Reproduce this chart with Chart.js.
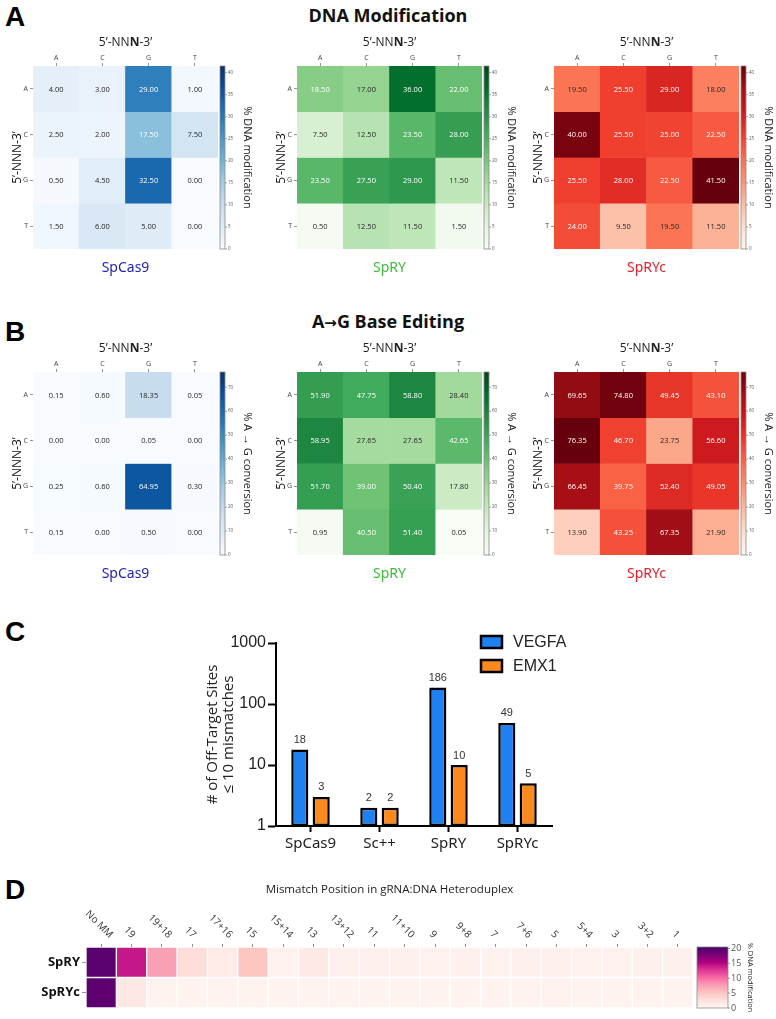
<!DOCTYPE html>
<html>
<head>
<meta charset="utf-8">
<script src="https://cdn.jsdelivr.net/npm/chart.js@4.4.0/dist/chart.umd.min.js"></script>
<style>
body { margin: 0; width: 776px; height: 1019px; overflow: hidden; background: #fff; position: relative; }
canvas { position: absolute; }
.letter { position: absolute; font: bold 28px 'Liberation Sans', Arial, sans-serif; line-height: 1; color: #000; }
.head { position: absolute; left: 0; width: 776px; text-align: center; font: bold 18px 'Open Sans', sans-serif; line-height: 1.2; color: #111; }
.arrow { font-family: 'DejaVu Sans', sans-serif; font-size: 15px; }
</style>
</head>
<body>
<div class="letter" style="left:5px;top:3px">A</div>
<div class="head" style="top:5px">DNA Modification</div>
<canvas id="dnaSpCas9" width="258" height="253" style="left:0px;top:30px"></canvas>
<canvas id="dnaSpRY" width="258" height="253" style="left:264px;top:30px"></canvas>
<canvas id="dnaSpRYc" width="258" height="253" style="left:521px;top:30px"></canvas>

<div class="letter" style="left:5px;top:318px">B</div>
<div class="head" style="top:311px">A<span class="arrow">→</span>G Base Editing</div>
<canvas id="abeSpCas9" width="258" height="253" style="left:0px;top:336px"></canvas>
<canvas id="abeSpRY" width="258" height="253" style="left:264px;top:336px"></canvas>
<canvas id="abeSpRYc" width="258" height="253" style="left:521px;top:336px"></canvas>

<div class="letter" style="left:5px;top:618px">C</div>
<canvas id="offTarget" width="420" height="240" style="left:190px;top:620px"></canvas>

<div class="letter" style="left:5px;top:876px">D</div>
<canvas id="mismatch" width="776" height="149" style="left:0px;top:870px"></canvas>

<script>
// ---- data ----
const bases = ['A', 'C', 'G', 'T'];

// % DNA modification (rows = 5' base, cols = 3' base)
const dnaSpCas9 = [[4.00, 3.00, 29.00, 1.00], [2.50, 2.00, 17.50, 7.50], [0.50, 4.50, 32.50, 0.00], [1.50, 6.00, 5.00, 0.00]];
const dnaSpRY = [[18.50, 17.00, 36.00, 22.00], [7.50, 12.50, 23.50, 28.00], [23.50, 27.50, 29.00, 11.50], [0.50, 12.50, 11.50, 1.50]];
const dnaSpRYc = [[19.50, 25.50, 29.00, 18.00], [40.00, 25.50, 25.00, 22.50], [25.50, 28.00, 22.50, 41.50], [24.00, 9.50, 19.50, 11.50]];
const dnaMax = 41.5;
const dnaTicks = [0, 5, 10, 15, 20, 25, 30, 35, 40];

// % A -> G conversion
const abeSpCas9 = [[0.15, 0.60, 18.35, 0.05], [0.00, 0.00, 0.05, 0.00], [0.25, 0.60, 64.95, 0.30], [0.15, 0.00, 0.50, 0.00]];
const abeSpRY = [[51.90, 47.75, 58.80, 28.40], [58.95, 27.65, 27.65, 42.65], [51.70, 39.00, 50.40, 17.80], [0.95, 40.50, 51.40, 0.05]];
const abeSpRYc = [[69.65, 74.80, 49.45, 43.10], [76.35, 46.70, 23.75, 56.60], [66.45, 39.75, 52.40, 49.05], [13.90, 43.25, 67.35, 21.90]];
const abeMax = 76.35;
const abeTicks = [0, 10, 20, 30, 40, 50, 60, 70];

// off-target sites (log scale)
const offTargetGroups = ['SpCas9', 'Sc++', 'SpRY', 'SpRYc'];
const vegfaSites = [18, 2, 186, 49];
const emx1Sites = [3, 2, 10, 5];
const logTicks = [1, 10, 100, 1000];

// mismatch tolerance
const mmPositions = ['No MM', '19', '19+18', '17', '17+16', '15', '15+14', '13', '13+12', '11', '11+10', '9', '9+8', '7', '7+6', '5', '5+4', '3', '3+2', '1'];
const mmVariants = ['SpRY', 'SpRYc'];
const mmSpRY = [19.6, 14.2, 7.6, 2.8, 1.3, 5.0, 0.6, 1.6, 0.7, 0.8, 0.7, 0.6, 0.7, 0.6, 0.7, 0.8, 0.6, 0.6, 0.8, 0.7];
const mmSpRYc = [19.4, 1.7, 0.5, 0.5, 0.5, 0.5, 0.4, 0.5, 0.5, 0.5, 0.5, 0.4, 0.5, 0.4, 0.5, 0.6, 0.4, 0.5, 0.5, 0.5];
const mmMax = 20.5;
const mmTicks = [0, 5, 10, 15, 20];

// ---- colour maps ----
const cmaps = {
    blues: { stops: ['#f7fbff', '#deebf7', '#c6dbef', '#9ecae1', '#6baed6', '#4292c6', '#2171b5', '#08519c', '#08306b'], light: 0.35 },
    greens: { stops: ['#f7fcf5', '#e5f5e0', '#c7e9c0', '#a1d99b', '#74c476', '#41ab5d', '#238b45', '#006d2c', '#00441b'], light: 0.43 },
    reds: { stops: ['#fff5f0', '#fee0d2', '#fcbba1', '#fc9272', '#fb6a4a', '#ef3b2c', '#cb181d', '#a50f15', '#67000d'], light: 0.5 },
    rdpu: { stops: ['#fff7f3', '#fde0dd', '#fcc5c0', '#fa9fb5', '#f768a1', '#dd3497', '#ae017e', '#7a0177', '#49006a'], light: 0.5 }
};

function hexToRgb(h) {
    const n = parseInt(h.slice(1), 16);
    return [(n >> 16) & 255, (n >> 8) & 255, n & 255];
}

function cmapColor(cm, t) {
    t = Math.max(0, Math.min(1, t));
    const s = cm.stops;
    const p = t * (s.length - 1);
    const i = Math.min(Math.floor(p), s.length - 2);
    const f = p - i;
    const a = hexToRgb(s[i]), b = hexToRgb(s[i + 1]);
    const c = a.map((v, k) => Math.round(v + (b[k] - v) * f));
    return `rgb(${c[0]},${c[1]},${c[2]})`;
}

const FONT = "'Open Sans', sans-serif";

function makeHeatmap(o) {
    const cm = cmaps[o.cmap];

    const cellText = {
        id: 'cellText',
        afterDatasetsDraw(chart) {
            if (!o.cellText) return;
            const ctx = chart.ctx;
            ctx.save();
            ctx.font = `7.5px ${FONT}`;
            ctx.textAlign = 'center';
            ctx.textBaseline = 'middle';
            chart.data.datasets.forEach((ds, i) => {
                chart.getDatasetMeta(i).data.forEach((bar, j) => {
                    const v = o.values[i][j];
                    const p = bar.getCenterPoint();
                    ctx.fillStyle = v / o.vmax > cm.light ? '#ffffff' : '#262626';
                    ctx.fillText(v.toFixed(2), p.x, p.y + 0.5);
                });
            });
            ctx.restore();
        }
    };

    const deco = {
        id: 'deco',
        afterDraw(chart) {
            const { ctx, chartArea: a } = chart;
            const cb = chart.scales.cb;
            ctx.save();

            // title above the columns (last N in bold)
            ctx.textBaseline = 'middle';
            ctx.fillStyle = '#222';
            let total = 0;
            o.titleParts.forEach(([txt, w]) => { ctx.font = `${w} ${o.titleSize}px ${FONT}`; total += ctx.measureText(txt).width; });
            let tx = (a.left + a.right) / 2 - total / 2;
            ctx.textAlign = 'left';
            o.titleParts.forEach(([txt, w]) => {
                ctx.font = `${w} ${o.titleSize}px ${FONT}`;
                ctx.fillText(txt, tx, a.top - o.titleOffset);
                tx += ctx.measureText(txt).width;
            });

            // rotated row title
            if (o.yTitle) {
                ctx.save();
                ctx.translate(a.left - 15, (a.top + a.bottom) / 2);
                ctx.rotate(-Math.PI / 2);
                ctx.textAlign = 'center';
                ctx.font = `12px ${FONT}`;
                ctx.fillStyle = '#111';
                ctx.fillText(o.yTitle, 0, 0);
                ctx.restore();
            }

            // rotated column labels
            if (o.rotateCols) {
                const xs = chart.scales.x;
                ctx.font = `10px ${FONT}`;
                ctx.fillStyle = '#333';
                ctx.textAlign = 'center';
                o.cols.forEach((lab, i) => {
                    const x = xs.getPixelForTick(i);
                    const w = ctx.measureText(lab).width;
                    const cy = a.top - 7 - (w + 10) * 0.7071 / 2;
                    ctx.save();
                    ctx.translate(x - 2, cy);
                    ctx.rotate(Math.PI / 4);
                    ctx.fillText(lab, 0, 0);
                    ctx.restore();
                });
            }

            // colour bar
            const x0 = a.right + o.cbGap;
            const top = cb.getPixelForValue(o.vmax), bot = cb.getPixelForValue(0);
            const g = ctx.createLinearGradient(0, bot, 0, top);
            cm.stops.forEach((c, i) => g.addColorStop(i / (cm.stops.length - 1), c));
            ctx.fillStyle = g;
            ctx.fillRect(x0, top, o.cbWidth, bot - top);
            ctx.strokeStyle = '#8a8a8a';
            ctx.lineWidth = 0.8;
            ctx.strokeRect(x0, top, o.cbWidth, bot - top);
            ctx.font = `${o.cbTickSize}px ${FONT}`;
            ctx.fillStyle = '#555';
            ctx.textAlign = 'left';
            o.cbTicks.forEach(v => {
                const y = cb.getPixelForValue(v);
                ctx.beginPath();
                ctx.moveTo(x0 + o.cbWidth, y);
                ctx.lineTo(x0 + o.cbWidth + 2, y);
                ctx.stroke();
                ctx.fillText(String(v), x0 + o.cbWidth + 3, y);
            });
            ctx.save();
            ctx.translate(a.right + o.cbLabelOffset, (top + bot) / 2);
            ctx.rotate(Math.PI / 2);
            ctx.textAlign = 'center';
            ctx.fillStyle = '#222';
            ctx.font = `${o.cbLabelSize}px ${FONT}`;
            ctx.fillText(o.cbLabel, 0, 0);
            ctx.restore();

            // variant name below
            if (o.name) {
                ctx.font = `14px 'Noto Sans', sans-serif`;
                ctx.fillStyle = o.nameColor;
                ctx.textAlign = 'center';
                ctx.fillText(o.name, (a.left + a.right) / 2, a.bottom + 19);
            }
            ctx.restore();
        }
    };

    return new Chart(document.getElementById(o.id), {
        type: 'bar',
        data: {
            labels: o.cols,
            datasets: o.rows.map((r, i) => ({
                label: r,
                data: o.values[i].map(() => [i, i + 1]),
                backgroundColor: o.values[i].map(v => cmapColor(cm, v / o.vmax)),
                borderColor: '#ffffff',
                borderWidth: o.cellBorder,
                borderSkipped: false
            }))
        },
        options: {
            responsive: false,
            animation: false,
            devicePixelRatio: 1,
            layout: { padding: { left: 0, top: 0, right: o.padRight, bottom: o.padBottom } },
            plugins: { legend: { display: false }, tooltip: { enabled: false } },
            datasets: { bar: { grouped: false, barPercentage: 1, categoryPercentage: 1 } },
            scales: {
                x: {
                    position: 'top',
                    grid: { offset: false, drawOnChartArea: false, tickLength: 3, tickColor: '#666', tickWidth: 0.7 },
                    border: { display: false },
                    ticks: { display: !o.rotateCols, font: { family: FONT, size: 7 }, color: '#444', padding: 1, maxRotation: 0, autoSkip: false },
                    afterFit: s => { s.height = o.xAxisH; }
                },
                y: {
                    min: 0,
                    max: o.rows.length,
                    reverse: true,
                    afterBuildTicks: s => { s.ticks = o.rows.map((r, i) => ({ value: i + 0.5 })); },
                    grid: { drawOnChartArea: false, tickLength: o.rowTickLen, tickColor: '#666', tickWidth: 0.7 },
                    border: { display: false },
                    ticks: { callback: (v, i) => o.rows[i], font: o.rowFont, color: o.rowColor, padding: 2 },
                    afterFit: s => { s.width = o.yAxisW; }
                },
                cb: { type: 'linear', display: false, position: 'right', min: 0, max: o.vmax }
            }
        },
        plugins: [cellText, deco]
    });
}

const nnnParts = [['5’-NN', 'normal'], ['N', 'bold'], ['-3’', 'normal']];

function smallHeatmap(id, values, cmap, vmax, ticks, label, name, color) {
    makeHeatmap({
        id, values, cmap, vmax, name, nameColor: color,
        rows: bases, cols: bases,
        cellText: true, cellBorder: 0,
        titleParts: nnnParts, titleSize: 12, titleOffset: 23,
        yTitle: '5’-NNN-3’',
        rowFont: { family: FONT, size: 7 }, rowColor: '#444', rowTickLen: 3,
        yAxisW: 33, xAxisH: 36, padRight: 40, padBottom: 34,
        cbGap: 2, cbWidth: 5, cbTicks: ticks, cbTickSize: 4.5,
        cbLabel: label, cbLabelSize: 11, cbLabelOffset: 29
    });
}

smallHeatmap('dnaSpCas9', dnaSpCas9, 'blues', dnaMax, dnaTicks, '% DNA modification', 'SpCas9', '#2424b4');
smallHeatmap('dnaSpRY', dnaSpRY, 'greens', dnaMax, dnaTicks, '% DNA modification', 'SpRY', '#3dbb3d');
smallHeatmap('dnaSpRYc', dnaSpRYc, 'reds', dnaMax, dnaTicks, '% DNA modification', 'SpRYc', '#e61e28');
smallHeatmap('abeSpCas9', abeSpCas9, 'blues', abeMax, abeTicks, '% A → G conversion', 'SpCas9', '#2424b4');
smallHeatmap('abeSpRY', abeSpRY, 'greens', abeMax, abeTicks, '% A → G conversion', 'SpRY', '#3dbb3d');
smallHeatmap('abeSpRYc', abeSpRYc, 'reds', abeMax, abeTicks, '% A → G conversion', 'SpRYc', '#e61e28');

// ---- panel D ----
makeHeatmap({
    id: 'mismatch',
    values: [mmSpRY, mmSpRYc],
    rows: mmVariants, cols: mmPositions,
    cmap: 'rdpu', vmax: mmMax,
    cellText: false, cellBorder: 1,
    rotateCols: true,
    titleParts: [['Mismatch Position in gRNA:DNA Heteroduplex', 'normal']], titleSize: 11.5, titleOffset: 57,
    rowFont: { family: FONT, size: 13, weight: 'bold' }, rowColor: '#111', rowTickLen: 4,
    yAxisW: 86, xAxisH: 77, padRight: 83, padBottom: 11,
    cbGap: 4, cbWidth: 31, cbTicks: mmTicks, cbTickSize: 9,
    cbLabel: '% DNA modification', cbLabelSize: 7.5, cbLabelOffset: 57
});

// ---- panel C ----
const valueLabels = {
    id: 'valueLabels',
    afterDatasetsDraw(chart) {
        const ctx = chart.ctx;
        ctx.save();
        ctx.font = "11px 'Liberation Sans', Arial, sans-serif";
        ctx.fillStyle = '#333';
        ctx.textAlign = 'center';
        ctx.textBaseline = 'bottom';
        chart.data.datasets.forEach((ds, i) => {
            chart.getDatasetMeta(i).data.forEach((bar, j) => {
                ctx.fillText(String(ds.data[j]), bar.x, bar.y - 4);
            });
        });
        ctx.restore();
    }
};

const boxLegend = {
    id: 'boxLegend',
    afterDraw(chart) {
        const { ctx, chartArea: a } = chart;
        ctx.save();
        chart.data.datasets.forEach((ds, i) => {
            const y = a.top - 1 + i * 24;
            ctx.fillStyle = ds.backgroundColor;
            ctx.fillRect(a.left + 205, y - 6, 21, 12);
            ctx.lineWidth = 2.5;
            ctx.strokeStyle = '#000';
            ctx.strokeRect(a.left + 205, y - 6, 21, 12);
            ctx.fillStyle = '#222';
            ctx.font = "16px 'Liberation Sans', Arial, sans-serif";
            ctx.textBaseline = 'middle';
            ctx.fillText(ds.label, a.left + 237, y + 1);
        });
        ctx.restore();
    }
};

new Chart(document.getElementById('offTarget'), {
    type: 'bar',
    data: {
        labels: offTargetGroups,
        datasets: [
            { label: 'VEGFA', data: vegfaSites, backgroundColor: '#1f80f2', borderColor: '#000', borderWidth: 2.5, borderSkipped: false },
            { label: 'EMX1', data: emx1Sites, backgroundColor: '#fa8a1e', borderColor: '#000', borderWidth: 2.5, borderSkipped: false }
        ]
    },
    options: {
        responsive: false,
        animation: false,
        devicePixelRatio: 1,
        layout: { padding: { left: 0, top: 23, right: 58, bottom: 0 } },
        plugins: { legend: { display: false }, tooltip: { enabled: false } },
        datasets: { bar: { categoryPercentage: 0.62, barPercentage: 0.8 } },
        scales: {
            x: {
                grid: { offset: false, drawOnChartArea: false, tickLength: 6, tickWidth: 2, tickColor: '#000' },
                border: { width: 2, color: '#000' },
                ticks: { font: { family: "'Noto Sans', sans-serif", size: 15 }, color: '#222', padding: 3 },
                afterFit: s => { s.height = 34; }
            },
            y: {
                type: 'logarithmic',
                min: 1,
                max: 1000,
                afterBuildTicks: s => { s.ticks = logTicks.map(v => ({ value: v })); },
                grid: { drawOnChartArea: false, tickLength: 8, tickWidth: 2, tickColor: '#000' },
                border: { width: 2, color: '#000' },
                ticks: { callback: v => String(v), font: { family: "'Liberation Sans', Arial, sans-serif", size: 16 }, color: '#222', padding: 2 },
                title: {
                    display: true,
                    text: ['# of Off-Target Sites', '≤ 10 mismatches'],
                    font: { family: FONT, size: 15, lineHeight: 1.1 },
                    color: '#222',
                    padding: { top: 14, bottom: 0 }
                },
                afterFit: s => { s.width = 86; }
            }
        }
    },
    plugins: [valueLabels, boxLegend]
});
</script>
</body>
</html>
